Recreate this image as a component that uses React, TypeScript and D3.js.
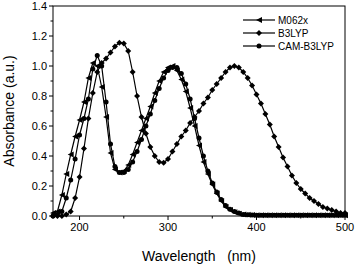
import React from "react";
import * as d3 from "d3";

const wavelengths: number[] = d3.range(170, 501, 5);

// M062x (left triangles)
const m062x: number[] = [
  0.02, 0.03, 0.14, 0.28, 0.41, 0.53, 0.64, 0.76, 0.92, 1.02,
  1.00, 0.86, 0.66, 0.42, 0.31, 0.29, 0.30, 0.34, 0.41, 0.49,
  0.57, 0.65, 0.73, 0.82, 0.90, 0.96, 0.99, 1.00, 0.97, 0.91,
  0.83, 0.72, 0.60, 0.47, 0.36, 0.28, 0.21, 0.15, 0.10, 0.06,
  0.04, 0.025, 0.015, 0.01, 0.008, 0.006, 0.005, 0.005, 0.005, 0.005,
  0.005, 0.005, 0.005, 0.005, 0.005, 0.005, 0.005, 0.005, 0.005, 0.005,
  0.005, 0.005, 0.005, 0.005, 0.005, 0.005, 0.005,
];

// B3LYP (diamonds)
const b3lyp: number[] = [
  0.0, 0.0, 0.0, 0.01, 0.03, 0.12, 0.26, 0.45, 0.65, 0.82,
  0.96, 1.02, 1.05, 1.09, 1.13, 1.155, 1.15, 1.10, 0.96, 0.80,
  0.66, 0.55, 0.46, 0.40, 0.36, 0.355, 0.38, 0.43, 0.48, 0.53,
  0.57, 0.62, 0.66, 0.70, 0.75, 0.79, 0.84, 0.88, 0.92, 0.96,
  0.99, 1.00, 0.99, 0.96, 0.92, 0.87, 0.81, 0.75, 0.68, 0.61,
  0.53, 0.46, 0.39, 0.33, 0.27, 0.22, 0.18, 0.15, 0.12, 0.10,
  0.08, 0.06, 0.05, 0.04, 0.03, 0.02, 0.02,
];

// CAM-B3LYP (circles)
const camb3lyp: number[] = [
  0.0, 0.01, 0.03, 0.12, 0.24, 0.38, 0.54, 0.65, 0.78, 0.98,
  1.07, 1.00, 0.76, 0.48, 0.33, 0.29, 0.29, 0.31, 0.36, 0.43,
  0.51, 0.60, 0.68, 0.77, 0.85, 0.92, 0.97, 0.99, 0.99, 0.95,
  0.88, 0.78, 0.65, 0.52, 0.40, 0.30, 0.22, 0.16, 0.11, 0.07,
  0.045, 0.03, 0.02, 0.01, 0.008, 0.006, 0.005, 0.005, 0.005, 0.005,
  0.005, 0.005, 0.005, 0.005, 0.005, 0.005, 0.005, 0.005, 0.005, 0.005,
  0.005, 0.005, 0.005, 0.005, 0.005, 0.005, 0.005,
];

const seriesNames = ["M062x", "B3LYP", "CAM-B3LYP"];
const xTicks = [200, 300, 400, 500];
const xMinor = [250, 350, 450];
const yTicks = [0, 0.2, 0.4, 0.6, 0.8, 1.0, 1.2, 1.4];
const yMinor = [0.1, 0.3, 0.5, 0.7, 0.9, 1.1, 1.3];

const W = 356, H = 266;
const L = 53, R = 345, T = 6, B = 216;
const FONT = "'Liberation Sans', Arial, sans-serif";

function Marker({ kind, x, y }: { kind: number; x: number; y: number }) {
  if (kind === 0) {
    const s = 3;
    return <path d={`M${x - s},${y}L${x + s},${y - s}L${x + s},${y + s}Z`} fill="#000" />;
  }
  if (kind === 1) {
    const s = 3;
    return <path d={`M${x},${y - s}L${x + s},${y}L${x},${y + s}L${x - s},${y}Z`} fill="#000" />;
  }
  return <circle cx={x} cy={y} r={2.5} fill="#000" />;
}

export default function App() {
  const x = d3.scaleLinear().domain([170, 500]).range([L, R]);
  const y = d3.scaleLinear().domain([0, 1.4]).range([B, T]);
  const all = [m062x, b3lyp, camb3lyp];
  const line = d3
    .line<number>()
    .x((_, i) => x(wavelengths[i]))
    .y((d) => y(d));

  const legendY = [20, 33, 46];

  return (
    <svg width={W} height={H} style={{ position: "absolute", left: 0, top: 0 }}>
      <rect width={W} height={H} fill="#fff" />
      {all.map((s, k) => (
        <g key={k}>
          <path d={line(s) || ""} fill="none" stroke="#000" strokeWidth={1.2} />
          {s.map((v, i) => (
            <Marker key={i} kind={k} x={x(wavelengths[i])} y={y(v)} />
          ))}
        </g>
      ))}
      <rect x={L} y={T} width={R - L} height={B - T} fill="none" stroke="#000" strokeWidth={1} />
      {xTicks.map((t) => (
        <g key={t}>
          <line x1={x(t)} x2={x(t)} y1={B} y2={B + 4} stroke="#000" />
          <text x={x(t)} y={B + 15} textAnchor="middle" fontFamily={FONT} fontSize={11}>
            {t}
          </text>
        </g>
      ))}
      {xMinor.map((t) => (
        <line key={t} x1={x(t)} x2={x(t)} y1={B} y2={B + 2.5} stroke="#000" />
      ))}
      {yTicks.map((t) => (
        <g key={t}>
          <line x1={L - 4} x2={L} y1={y(t)} y2={y(t)} stroke="#000" />
          <text x={L - 6} y={y(t) + 4} textAnchor="end" fontFamily={FONT} fontSize={11}>
            {t.toFixed(1)}
          </text>
        </g>
      ))}
      {yMinor.map((t) => (
        <line key={t} x1={L - 2.5} x2={L} y1={y(t)} y2={y(t)} stroke="#000" />
      ))}
      <text
        transform={`translate(14,${(T + B) / 2}) rotate(-90)`}
        textAnchor="middle"
        fontFamily={FONT}
        fontSize={14}
      >
        Absorbance (a.u.)
      </text>
      <text x={199} y={261} textAnchor="middle" fontFamily={FONT} fontSize={14} style={{ whiteSpace: "pre" }}>
        {"Wavelength   (nm)"}
      </text>
      {seriesNames.map((n, k) => (
        <g key={n}>
          <line x1={243} x2={275} y1={legendY[k]} y2={legendY[k]} stroke="#000" strokeWidth={1.2} />
          <Marker kind={k} x={259} y={legendY[k]} />
          <text x={278} y={legendY[k] + 3.5} fontFamily={FONT} fontSize={10}>
            {n}
          </text>
        </g>
      ))}
    </svg>
  );
}
